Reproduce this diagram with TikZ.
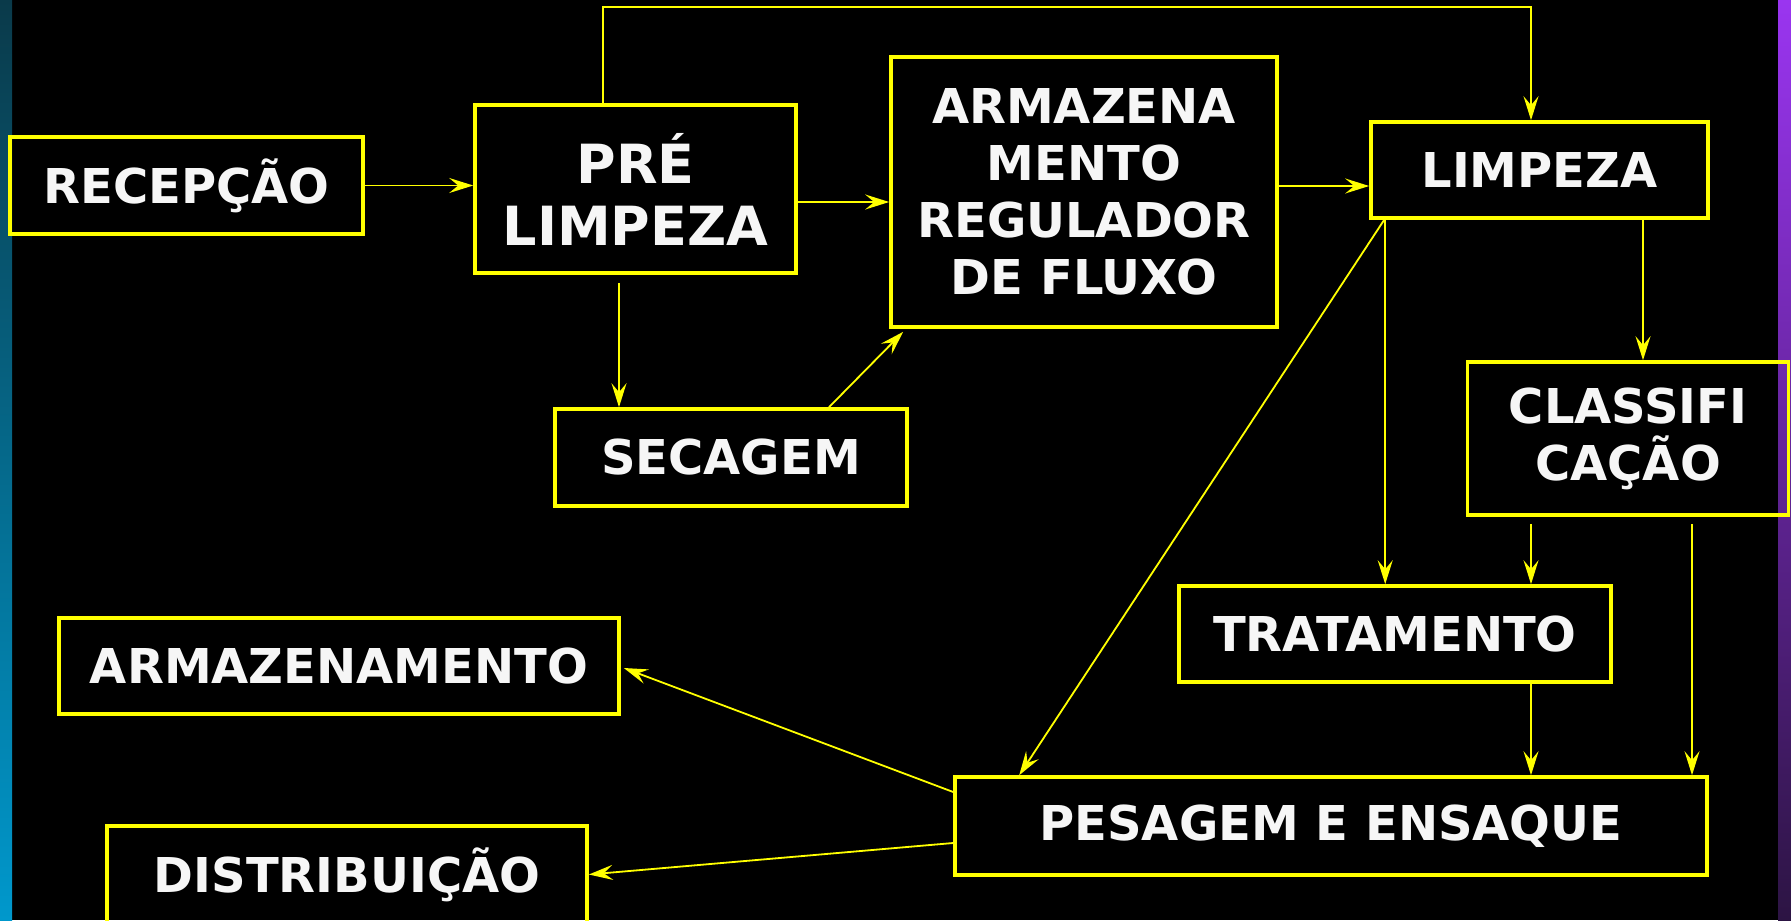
\documentclass[tikz,border=0pt]{standalone}
\usepackage{fontspec}
\setmainfont{DejaVu Sans}
\usetikzlibrary{arrows.meta,calc}

\definecolor{boxyellow}{HTML}{FFFF00}
\definecolor{textwhite}{HTML}{F6F6F6}
\definecolor{stripteal}{HTML}{0A3A4A}
\definecolor{stripblue}{HTML}{0098CC}
\definecolor{strippurple}{HTML}{9A35F0}
\definecolor{stripdark}{HTML}{2C1443}

\tikzset{
 etapa/.style={draw=boxyellow, line width=1.8pt, text=textwhite, align=center,
   inner sep=0pt, font=\fontsize{24}{28.5}\selectfont\bfseries},
 fluxo/.style={draw=boxyellow, line width=0.9pt,
   -{Stealth[length=12pt,width=7.5pt,inset=4.5pt]}},
}

\begin{document}
\begin{tikzpicture}[x=0.5pt,y=-0.5pt]
 \useasboundingbox (0,0) rectangle (1791,920);
 \fill[black] (0,0) rectangle (1791,920);
 \shade[top color=stripteal, bottom color=stripblue] (0,0) rectangle (12,920); % left strip
 \shade[top color=strippurple, bottom color=stripdark] (1778,0) rectangle (1791,920); % right strip

 % boxes
 \node[etapa, minimum width=176.5pt, minimum height=48.5pt] (recepcao) at (186.5,185.5) {RECEPÇÃO};
 \node[etapa, minimum width=160.5pt, minimum height=84pt,
   font=\fontsize{27}{31}\selectfont\bfseries] (prelimpeza) at (635.5,189) {PRÉ\\LIMPEZA};
 \node[etapa, minimum width=193pt, minimum height=135pt] (armreg) at (1084,192) {ARMAZENA\\MENTO\\REGULADOR\\DE FLUXO};
 \node[etapa, minimum width=168.5pt, minimum height=48pt] (limpeza) at (1539.5,170) {LIMPEZA};
 \node[etapa, minimum width=176pt, minimum height=48.5pt] (secagem) at (731,457.5) {SECAGEM};
 \node[etapa, minimum width=160.5pt, minimum height=76.5pt] (classif) at (1628,438.5) {CLASSIFI\\CAÇÃO};
 \node[etapa, minimum width=216pt, minimum height=48pt] (tratamento) at (1395,634) {TRATAMENTO};
 \node[etapa, minimum width=280pt, minimum height=48pt] (armazenamento) at (339,666) {ARMAZENAMENTO};
 \node[etapa, minimum width=376pt, minimum height=49pt] (pesagem) at (1331,826) {PESAGEM E ENSAQUE};
 \node[etapa, minimum width=240pt, minimum height=48.5pt] (distribuicao) at (347,874.5) {DISTRIBUIÇÃO};

 % connectors
 \draw[fluxo] (recepcao.east) -- (recepcao.east -| prelimpeza.west);
 \draw[fluxo] ($(prelimpeza.east)+(0,13)$) coordinate (pa) -- (pa -| armreg.west);
 \draw[fluxo] ($(armreg.east)+(0,-6)$) coordinate (ab) -- (ab -| limpeza.west);
 \draw[fluxo] ($(prelimpeza.north)+(-32.5,0)$) -- ++(0,-96) -| ($(limpeza.north)+(-8.5,0)$);
 \draw[fluxo] ($(prelimpeza.south)+(-16.5,8)$) coordinate (ps) -- (ps |- secagem.north);
 \draw[fluxo] ($(secagem.north)+(98,0)$) -- ($(armreg.south west)+(14,3)$);
 \draw[fluxo] ($(limpeza.south)+(103.5,0)$) coordinate (lc) -- (lc |- classif.north);
 \draw[fluxo] ($(limpeza.south west)+(16,0)$) coordinate (lt) -- (lt |- tratamento.north);
 \draw[fluxo] ($(limpeza.south west)+(15,0)$) -- ($(pesagem.north west)+(66,0)$);
 \draw[fluxo] ($(classif.south)+(-97,7)$) coordinate (ct) -- (ct |- tratamento.north);
 \draw[fluxo] ($(classif.south)+(64,7)$) coordinate (cp) -- (cp |- pesagem.north);
 \draw[fluxo] ($(tratamento.south)+(136,0)$) coordinate (tp) -- (tp |- pesagem.north);
 \draw[fluxo] ($(pesagem.west)+(0,-34)$) -- ($(armazenamento.east)+(3,2)$);
 \draw[fluxo] ($(pesagem.west)+(0,17)$) -- (distribuicao.east);
\end{tikzpicture}
\end{document}
